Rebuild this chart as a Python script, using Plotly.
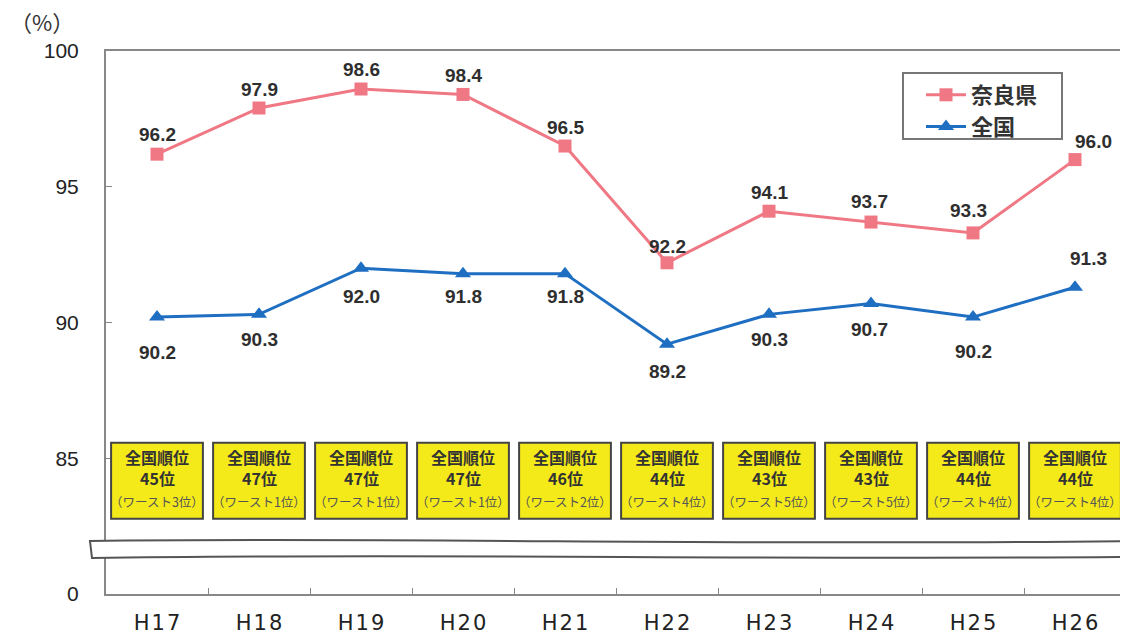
import plotly.graph_objects as go

years = ["H17", "H18", "H19", "H20", "H21", "H22", "H23", "H24", "H25", "H26"]
nara = [96.2, 97.9, 98.6, 98.4, 96.5, 92.2, 94.1, 93.7, 93.3, 96.0]
zenkoku = [90.2, 90.3, 92.0, 91.8, 91.8, 89.2, 90.3, 90.7, 90.2, 91.3]
rank = [45, 47, 47, 47, 46, 44, 43, 43, 44, 44]
worst = [3, 1, 1, 1, 2, 4, 5, 5, 4, 4]
ytick_vals = [80, 85, 90, 95, 100]
ytick_text = ["0", "85", "90", "95", "100"]

# label offsets (pixels) - styling only
nara_dx = [0, 0, 0, 0, 0, 0, 0, -2, -5, 18]
nara_dy = [20, 19, 20, 19, 19, 16, 19, 21, 22, 18]
zen_dx = [0, 0, 0, 0, 0, 0, 0, -2, 0, 13]
zen_dy = [-35, -25, -28, -23, -23, -27, -25, -26, -34, 29]

PINK = "#EF7884"
BLUE = "#1E6EC2"
# the page body has an 8px margin, so the figure is drawn 8px in from the top-left
OFF = 8
W, H = 1128 - OFF, 633 - OFF
L, R, T, B = 106 - OFF, 2, 51 - OFF, 39
PW, PH = W - L - R, H - T - B

def px(sx):  # screen px -> paper x
    return (sx - 106) / PW

def py(sy):  # screen px -> paper y
    return (594 - sy) / PH

fig = go.Figure()
fig.add_trace(go.Scatter(x=years, y=nara, name="奈良県", mode="lines+markers",
                         line=dict(color=PINK, width=3),
                         marker=dict(symbol="square", size=13, color=PINK)))
fig.add_trace(go.Scatter(x=years, y=zenkoku, name="全国", mode="lines+markers",
                         line=dict(color=BLUE, width=3),
                         marker=dict(symbol="triangle-up", size=14, color=BLUE)))

ann = []
lab_font = dict(family="Liberation Sans, Arial", size=19, color="#2e2e2e")
for i, yv in enumerate(years):
    ann.append(dict(x=yv, y=nara[i], text=f"<b>{nara[i]:.1f}</b>", showarrow=False,
                    xshift=nara_dx[i], yshift=nara_dy[i], font=lab_font))
    ann.append(dict(x=yv, y=zenkoku[i], text=f"<b>{zenkoku[i]:.1f}</b>", showarrow=False,
                    xshift=zen_dx[i], yshift=zen_dy[i], font=lab_font))

shapes = []
jp = "Noto Sans CJK JP"
for i, yv in enumerate(years):
    shapes.append(dict(type="rect", xref="x", yref="y", x0=i - 0.45, x1=i + 0.45,
                       y0=82.77, y1=85.57, fillcolor="#F4EA1A",
                       line=dict(color="#444444", width=2), layer="above"))
    ann.append(dict(x=yv, y=85.06, text="<b>全国順位</b>", showarrow=False,
                    font=dict(family=jp, size=16, color="#333333")))
    ann.append(dict(x=yv, y=84.26, text=f"<b>{rank[i]}位</b>", showarrow=False,
                    font=dict(family=jp, size=16, color="#333333")))
    ann.append(dict(x=yv, y=83.42, text=f"（ワースト{worst[i]}位）", showarrow=False,
                    font=dict(family=jp, size=12.5, color="#555555")))

# broken axis band
top = f"M {px(90)},{py(541)} C {px(400)},{py(537)} {px(750)},{py(546)} {px(1130)},{py(541)}"
bot = f"L {px(1130)},{py(557)} C {px(750)},{py(560)} {px(400)},{py(553)} {px(92)},{py(558)} Z"
shapes.append(dict(type="path", xref="paper", yref="paper", path=top + " " + bot,
                   fillcolor="white", line=dict(color="#555555", width=2), layer="above"))

# legend frame
shapes.append(dict(type="rect", xref="paper", yref="paper",
                   x0=px(903), x1=px(1062), y0=py(139), y1=py(73),
                   fillcolor="white", line=dict(color="#777777", width=2), layer="below"))

ann.append(dict(xref="paper", yref="paper", x=px(8), y=py(21), xanchor="left",
                yanchor="middle", text="（%）", showarrow=False,
                font=dict(family=jp, size=22, color="#333333")))

xtick_text = ["\u200a".join(list(s)) for s in years]

fig.update_layout(
    width=W, height=H,
    margin=dict(l=L, r=R, t=T, b=B, autoexpand=False),
    paper_bgcolor="white", plot_bgcolor="white",
    showlegend=True,
    legend=dict(x=px(921), y=py(74), xanchor="left", yanchor="top",
                borderwidth=0, bgcolor="rgba(0,0,0,0)",
                font=dict(family=jp, size=22, color="#333333", weight="bold"),
                itemwidth=40, tracegroupgap=0),
    annotations=ann, shapes=shapes,
)
fig.update_xaxes(type="category", range=[-0.5, 9.5], showgrid=False, automargin=False,
                 showline=True, linecolor="#888888", linewidth=2, mirror=True,
                 ticks="inside", ticklen=6, tickcolor="#888888", tickson="boundaries",
                 tickvals=years, ticktext=xtick_text,
                 tickfont=dict(family="DejaVu Sans", size=21, color="#222222"),
                 ticklabelstandoff=9)
fig.update_yaxes(range=[80, 100], showgrid=False, zeroline=False, automargin=False,
                 showline=True, linecolor="#888888", linewidth=2, mirror=True,
                 tickvals=ytick_vals, ticktext=ytick_text,
                 ticks="inside", ticklen=6, tickcolor="#888888",
                 tickfont=dict(family="Liberation Sans, Arial", size=21, color="#222222"),
                 ticklabelstandoff=21)

fig.write_html("out.html")
